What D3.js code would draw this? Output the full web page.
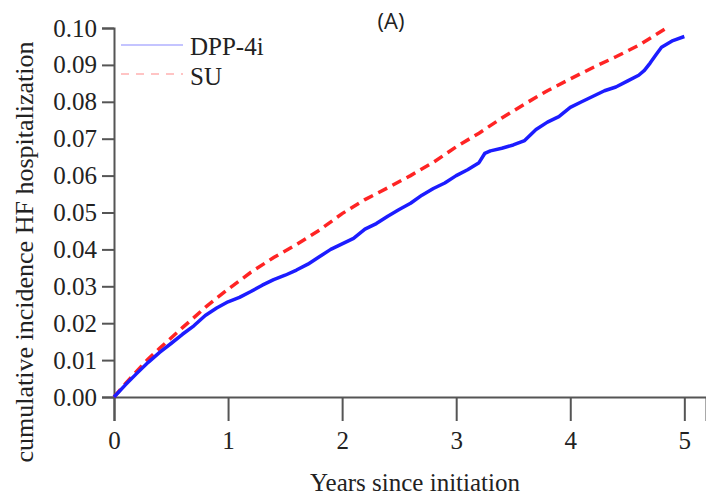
<!DOCTYPE html>
<html>
<head>
<meta charset="utf-8">
<script src="https://cdn.jsdelivr.net/npm/d3@7"></script>
<style>
  body { margin: 0; background: #fff; }
  svg text { font-family: "Liberation Serif", serif; fill: #222; }
</style>
</head>
<body>
<div id="container"></div>
<script>
/* data */
var dppTime = [0, 0.1, 0.2, 0.3, 0.4, 0.5, 0.6, 0.7, 0.8, 0.9, 1.0, 1.1, 1.2, 1.3, 1.4, 1.5, 1.6, 1.7, 1.8, 1.9,
               2.0, 2.1, 2.2, 2.3, 2.4, 2.5, 2.6, 2.7, 2.8, 2.9, 3.0, 3.1, 3.2, 3.25, 3.3, 3.4, 3.5, 3.6, 3.7, 3.8,
               3.9, 4.0, 4.1, 4.2, 4.3, 4.4, 4.5, 4.6, 4.65, 4.7, 4.75, 4.8, 4.9, 5.0]
var dppRisk = [0, 0.0033, 0.0064, 0.0094, 0.0121, 0.0145, 0.0170, 0.0193, 0.0221, 0.0241, 0.0258, 0.0270, 0.0286,
               0.0303, 0.0318, 0.0330, 0.0344, 0.0360, 0.0380, 0.0400, 0.0415, 0.0430, 0.0455, 0.0470, 0.0490,
               0.0508, 0.0525, 0.0547, 0.0565, 0.0580, 0.0600, 0.0616, 0.0635, 0.0660, 0.0667, 0.0674, 0.0683,
               0.0695, 0.0725, 0.0745, 0.0760, 0.0785, 0.0800, 0.0815, 0.0830, 0.0840, 0.0856, 0.0872, 0.0885,
               0.0905, 0.0927, 0.0948, 0.0966, 0.0977]

var suTime = [0, 0.1, 0.2, 0.3, 0.4, 0.5, 0.6, 0.7, 0.8, 0.9, 1.0, 1.2, 1.4, 1.6, 1.8, 2.0, 2.2, 2.4, 2.6, 2.8,
              3.0, 3.2, 3.4, 3.6, 3.8, 4.0, 4.2, 4.4, 4.6, 4.84]
var suRisk = [0, 0.0036, 0.0070, 0.0103, 0.0132, 0.0160, 0.0188, 0.0215, 0.0243, 0.0268, 0.0292, 0.0338, 0.0378,
              0.0413, 0.0452, 0.0497, 0.0535, 0.0567, 0.0600, 0.0636, 0.0678, 0.0715, 0.0756, 0.0794, 0.0830,
              0.0862, 0.0893, 0.0922, 0.0953, 0.0999]

var xTicks = [0, 1, 2, 3, 4, 5]
var yTicks = [0, 0.01, 0.02, 0.03, 0.04, 0.05, 0.06, 0.07, 0.08, 0.09, 0.10]
var seriesNames = ["DPP-4i", "SU"]

var width = 706, height = 500
var serif = "Liberation Serif, serif"

var svg = d3.select("#container")
            .append("svg")
            .attr("width", width)
            .attr("height", height)

var x = d3.scaleLinear().domain([0, 5.19]).range([114, 706])
var y = d3.scaleLinear().domain([0, 0.10]).range([397, 28])

/* axes */
svg.append("g")
   .attr("transform", "translate(0," + y(0) + ")")
   .call(d3.axisBottom(x).tickValues(xTicks).tickSize(24).tickPadding(10).tickFormat(d3.format("d")))
   .attr("font-family", serif).attr("font-size", 25)
svg.append("g")
   .attr("transform", "translate(" + x(0) + ",0)")
   .call(d3.axisLeft(y).tickValues(yTicks).tickSize(12).tickPadding(5).tickFormat(d3.format(".2f")))
   .attr("font-family", serif).attr("font-size", 25)

svg.selectAll(".domain").attr("stroke", "#555").attr("stroke-width", 2)
svg.selectAll(".tick line").attr("stroke", "#555").attr("stroke-width", 2)
svg.selectAll(".tick text").attr("fill", "#222")

/* axis titles */
svg.append("text")
   .attr("x", 415).attr("y", 491)
   .attr("text-anchor", "middle")
   .attr("font-family", serif).attr("font-size", 25)
   .text("Years since initiation")
svg.append("text")
   .attr("transform", "translate(33,252) rotate(-90)")
   .attr("text-anchor", "middle")
   .attr("font-family", serif).attr("font-size", 26)
   .text("cumulative incidence HF hospitalization")

svg.append("text")
   .attr("x", 391).attr("y", 29)
   .attr("text-anchor", "middle")
   .style("font-family", "'Open Sans', sans-serif")
   .style("font-size", "22px")
   .text("(A)")

/* curves */
var line = d3.line()
   .x(function(d) { return x(d[0]) })
   .y(function(d) { return y(d[1]) })

svg.append("path")
   .datum(d3.zip(suTime, suRisk))
   .attr("fill", "none")
   .attr("stroke", "#ff2424")
   .attr("stroke-width", 3.5)
   .attr("stroke-dasharray", "10,6")
   .attr("d", line)

svg.append("path")
   .datum(d3.zip(dppTime, dppRisk))
   .attr("fill", "none")
   .attr("stroke", "#1c1cff")
   .attr("stroke-width", 3.5)
   .attr("stroke-linejoin", "round")
   .attr("d", line)

/* legend */
var legend = svg.append("g").attr("font-family", serif).attr("font-size", 25)
legend.append("line")
   .attr("x1", 121).attr("x2", 183).attr("y1", 45).attr("y2", 45)
   .attr("stroke", "#c4c4ff").attr("stroke-width", 2)
legend.append("line")
   .attr("x1", 121).attr("x2", 183).attr("y1", 74).attr("y2", 74)
   .attr("stroke", "#ffc4c4").attr("stroke-width", 2)
   .attr("stroke-dasharray", "8,7")
legend.append("text").attr("x", 190).attr("y", 55).text(seriesNames[0])
legend.append("text").attr("x", 190).attr("y", 85).text(seriesNames[1])
</script>
</body>
</html>
